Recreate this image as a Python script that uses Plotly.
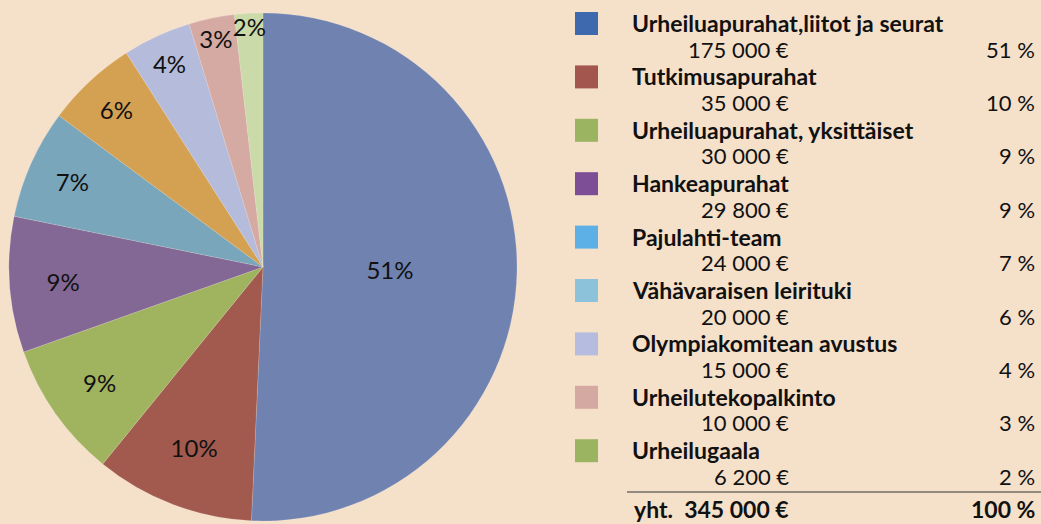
import plotly.graph_objects as go

categories = ["Urheiluapurahat,liitot ja seurat", "Tutkimusapurahat", "Urheiluapurahat, yksittäiset",
              "Hankeapurahat", "Pajulahti-team", "Vähävaraisen leirituki", "Olympiakomitean avustus",
              "Urheilutekopalkinto", "Urheilugaala"]
amounts = [175000, 35000, 30000, 29800, 24000, 20000, 15000, 10000, 6200]
pie_colors = ["#6F82B0", "#A25A4F", "#A0B35F", "#836895", "#7AA6BB", "#D3A151", "#B5BBDA", "#D4AAA3", "#CADAA8"]
legend_colors = ["#3F69AF", "#A3564D", "#9BB461", "#7D4D95", "#5DB0E6", "#8CC3DA", "#B6BCE0", "#D4A9A1", "#9BB461"]
total_label = "yht."

BG = "#F5E0CA"
FONT = "Lato, 'Noto Sans', sans-serif"

def fmt(v):
    return f"{v:,}".replace(",", " ") + " €"

total = sum(amounts)

fig = go.Figure()
fig.add_trace(go.Pie(
    values=amounts, labels=categories, sort=False, direction="clockwise", rotation=0,
    marker=dict(colors=pie_colors, line=dict(color="rgba(255,255,255,0.3)", width=0.5)),
    texttemplate="%{percent:.0%}", textposition="inside", insidetextorientation="horizontal",
    textfont=dict(family=FONT, size=24, color="#111111"),
    domain=dict(x=[9/1041, 517/1041], y=[1-521/524, 1-13/524]),
    showlegend=False, hoverinfo="label+value+percent",
))

shapes = []
annotations = []
row0 = 23
step = 53.4
for i, (c, a) in enumerate(zip(categories, amounts)):
    yn = row0 + i * step
    ya = yn + 26
    shapes.append(dict(type="rect", xref="paper", yref="paper",
                       x0=575/1041, x1=598/1041, y0=1-(yn+12)/524, y1=1-(yn-11)/524,
                       fillcolor=legend_colors[i], line=dict(width=0)))
    annotations.append(dict(x=630/1041, y=1-yn/524, xref="paper", yref="paper", text=c,
                            showarrow=False, xanchor="left", yanchor="middle",
                            font=dict(family=FONT, size=23, color="#111111", weight="bold")))
    annotations.append(dict(x=791/1041, y=1-ya/524, xref="paper", yref="paper", text=fmt(a),
                            showarrow=False, xanchor="right", yanchor="middle",
                            font=dict(family=FONT, size=22, color="#111111")))
    pct = round(a / total * 100)
    annotations.append(dict(x=1037/1041, y=1-ya/524, xref="paper", yref="paper", text=f"{pct} %",
                            showarrow=False, xanchor="right", yanchor="middle",
                            font=dict(family=FONT, size=22, color="#111111")))

shapes.append(dict(type="line", xref="paper", yref="paper", x0=627/1041, x1=1041/1041,
                   y0=1-492/524, y1=1-492/524, line=dict(color="#333333", width=1.2)))
annotations.append(dict(x=791/1041, y=1-509/524, xref="paper", yref="paper",
                        text=total_label + "  " + fmt(total),
                        showarrow=False, xanchor="right", yanchor="middle",
                        font=dict(family=FONT, size=23, color="#111111", weight="bold")))
annotations.append(dict(x=1037/1041, y=1-509/524, xref="paper", yref="paper", text="100 %",
                        showarrow=False, xanchor="right", yanchor="middle",
                        font=dict(family=FONT, size=23, color="#111111", weight="bold")))

fig.update_layout(
    width=1041, height=524, margin=dict(l=0, r=0, t=0, b=0),
    paper_bgcolor=BG, plot_bgcolor=BG,
    shapes=shapes, annotations=annotations,
    font=dict(family=FONT),
    uniformtext=dict(minsize=24, mode="show"),
)
fig.write_html("out.html", post_script="document.body.style.margin='0';",
               config={"displayModeBar": False})
